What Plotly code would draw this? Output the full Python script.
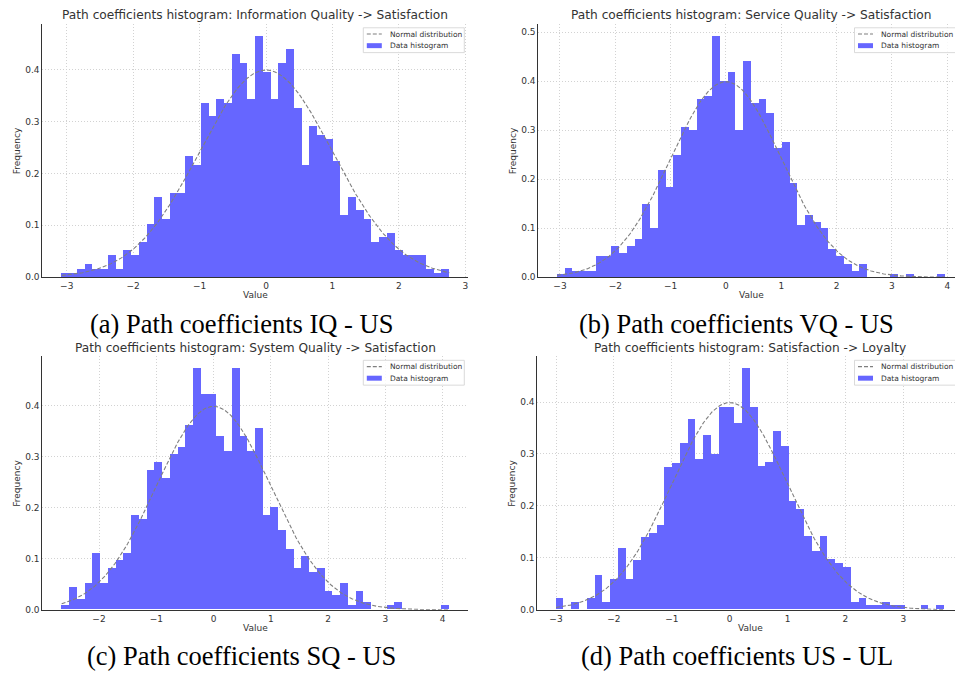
import numpy as np
import plotly.graph_objects as go

W, H = 955, 679

# ---------------- data ----------------
titles = [
    "Path coefficients histogram: Information Quality -> Satisfaction",
    "Path coefficients histogram: Service Quality -> Satisfaction",
    "Path coefficients histogram: System Quality -> Satisfaction",
    "Path coefficients histogram: Satisfaction -> Loyalty",
]
captions = [
    "(a) Path coefficients IQ - US",
    "(b) Path coefficients VQ - US",
    "(c) Path coefficients SQ - US",
    "(d) Path coefficients US - UL",
]
legend_labels = ["Normal distribution", "Data histogram"]
x_label = "Value"
y_label = "Frequency"

# histogram ranges (first bin left edge, last bin right edge), 50 bins each
bin_range_a = (-3.075, 2.759)
bin_range_b = (-3.05, 3.96)
bin_range_c = (-2.652, 4.11)
bin_range_d = (-3.0, 3.707)

freq_a = [0.008, 0.008, 0.017, 0.026, 0.017, 0.017, 0.043, 0.017, 0.052, 0.043,
          0.069, 0.103, 0.155, 0.112, 0.163, 0.163, 0.233, 0.216, 0.335, 0.310,
          0.344, 0.335, 0.431, 0.413, 0.344, 0.465, 0.395, 0.344, 0.413, 0.439,
          0.327, 0.216, 0.292, 0.275, 0.267, 0.224, 0.121, 0.155, 0.129, 0.112,
          0.069, 0.078, 0.086, 0.052, 0.043, 0.043, 0.043, 0.017, 0.008, 0.017]
freq_b = [0.007, 0.020, 0.014, 0.014, 0.014, 0.043, 0.043, 0.065, 0.050, 0.065,
          0.078, 0.150, 0.100, 0.220, 0.184, 0.250, 0.306, 0.300, 0.363, 0.371,
          0.493, 0.400, 0.420, 0.300, 0.441, 0.356, 0.363, 0.335, 0.264, 0.277,
          0.193, 0.107, 0.127, 0.113, 0.100, 0.057, 0.043, 0.028, 0.014, 0.028,
          0.0, 0.0, 0.0, 0.007, 0.0, 0.007, 0.0, 0.0, 0.0, 0.007]
freq_c = [0.008, 0.044, 0.021, 0.051, 0.111, 0.051, 0.081, 0.096, 0.111, 0.186,
          0.177, 0.274, 0.289, 0.258, 0.304, 0.318, 0.362, 0.474, 0.423, 0.423,
          0.340, 0.310, 0.474, 0.340, 0.310, 0.355, 0.186, 0.200, 0.155, 0.119,
          0.081, 0.104, 0.074, 0.081, 0.036, 0.029, 0.051, 0.008, 0.036, 0.014,
          0.0, 0.0, 0.008, 0.014, 0.0, 0.0, 0.0, 0.0, 0.0, 0.008]
freq_d = [0.022, 0.0, 0.015, 0.0, 0.022, 0.066, 0.015, 0.058, 0.118, 0.058,
          0.095, 0.140, 0.148, 0.163, 0.275, 0.282, 0.320, 0.366, 0.290, 0.336,
          0.299, 0.389, 0.389, 0.359, 0.465, 0.389, 0.277, 0.284, 0.344, 0.314,
          0.209, 0.194, 0.142, 0.112, 0.142, 0.097, 0.089, 0.082, 0.015, 0.022,
          0.008, 0.008, 0.015, 0.008, 0.008, 0.0, 0.0, 0.008, 0.0, 0.008]

normal_mean = 0.0
normal_std = 1.0

x_ticks_a = [-3, -2, -1, 0, 1, 2, 3]
x_ticks_b = [-3, -2, -1, 0, 1, 2, 3, 4]
x_ticks_c = [-2, -1, 0, 1, 2, 3, 4]
x_ticks_d = [-3, -2, -1, 0, 1, 2, 3]
y_ticks_a = [0.0, 0.1, 0.2, 0.3, 0.4]
y_ticks_b = [0.0, 0.1, 0.2, 0.3, 0.4, 0.5]
y_ticks_c = [0.0, 0.1, 0.2, 0.3, 0.4]
y_ticks_d = [0.0, 0.1, 0.2, 0.3, 0.4]

# ---------------- layout geometry (pixels) ----------------
panels = [
    dict(freq=freq_a, rng=bin_range_a, xt=x_ticks_a, yt=y_ticks_a,
         left=42.3, right=468.3, full_right=468.3, leg_right=464.3, top=24, bottom=279.3,
         xr=[-3.368, 3.045], yr=[0, 0.488], ylab_x=16.7, cap_x=241, cap_y=326),
    dict(freq=freq_b, rng=bin_range_b, xt=x_ticks_b, yt=y_ticks_b,
         left=538.3, right=955, full_right=964.5, leg_right=955.5, top=24, bottom=279.3,
         xr=[-3.392, 4.139], yr=[0, 0.517], ylab_x=512.7, cap_x=736.5, cap_y=326),
    dict(freq=freq_c, rng=bin_range_c, xt=x_ticks_c, yt=y_ticks_c,
         left=42.3, right=468.3, full_right=468.3, leg_right=464.3, top=359, bottom=614.3,
         xr=[-2.99, 4.448], yr=[0, 0.497], ylab_x=16.7, cap_x=241, cap_y=661),
    dict(freq=freq_d, rng=bin_range_d, xt=x_ticks_d, yt=y_ticks_d,
         left=537.3, right=955, full_right=963.5, leg_right=955.5, top=359, bottom=614.3,
         xr=[-3.323, 3.893], yr=[0, 0.488], ylab_x=511.7, cap_x=736.5, cap_y=661),
]

BAR_COLOR = "#6666ff"
CURVE_COLOR = "#7f7f7f"
TEXT_COLOR = "#333333"
FONT = "DejaVu Sans"


def px(x):
    return x / W


def py(y):
    return 1 - y / H


fig = go.Figure()
shapes = []
annotations = []
layout_axes = {}

for i, p in enumerate(panels):
    n = i + 1
    xa = "x" if n == 1 else f"x{n}"
    ya = "y" if n == 1 else f"y{n}"
    lo, hi = p["rng"]
    nb = len(p["freq"])
    edges = np.linspace(lo, hi, nb + 1)
    centers = (edges[:-1] + edges[1:]) / 2
    bw = edges[1] - edges[0]

    fig.add_trace(go.Bar(
        x=centers, y=p["freq"], width=bw, xaxis=xa, yaxis=ya,
        marker=dict(color=BAR_COLOR, line=dict(width=0)),
        name=legend_labels[1], showlegend=False, hoverinfo="x+y",
    ))
    xs = np.linspace(lo, hi, 300)
    ys = np.exp(-((xs - normal_mean) ** 2) / (2 * normal_std ** 2)) / (normal_std * np.sqrt(2 * np.pi))
    fig.add_trace(go.Scatter(
        x=xs, y=ys, mode="lines", xaxis=xa, yaxis=ya,
        line=dict(color=CURVE_COLOR, width=1.1, dash="4px,2px"),
        name=legend_labels[0], showlegend=False,
    ))

    common = dict(showgrid=True, gridcolor="#d2d2d2", griddash="1px,2px", gridwidth=0.8,
                  showline=True, linecolor="#333333", linewidth=1, zeroline=False,
                  ticks="", tickfont=dict(family=FONT, size=9, color=TEXT_COLOR),
                  fixedrange=True)
    layout_axes["xaxis" if n == 1 else f"xaxis{n}"] = dict(
        domain=[px(p["left"]), px(p["right"])], range=p["xr"], anchor=ya,
        tickmode="array", tickvals=p["xt"], **common)
    layout_axes["yaxis" if n == 1 else f"yaxis{n}"] = dict(
        domain=[py(p["bottom"]), py(p["top"])], range=p["yr"], anchor=xa,
        tickmode="array", tickvals=p["yt"], tickformat=".1f", **common)

    cx = (p["left"] + p["full_right"]) / 2
    # title
    annotations.append(dict(x=px(cx), y=py(15.5 + (p["top"] - 24)), xref="paper", yref="paper",
                            text=titles[i], showarrow=False, xanchor="center", yanchor="middle",
                            font=dict(family=FONT, size=12.2, color=TEXT_COLOR)))
    # axis labels
    annotations.append(dict(x=px(cx), y=py(p["bottom"] + 18), xref="paper", yref="paper",
                            text=x_label, showarrow=False, xanchor="center", yanchor="middle",
                            font=dict(family=FONT, size=9, color=TEXT_COLOR)))
    annotations.append(dict(x=px(p["ylab_x"]), y=py((p["top"] + p["bottom"]) / 2), xref="paper",
                            yref="paper", text=y_label, showarrow=False, textangle=-90,
                            xanchor="center", yanchor="middle",
                            font=dict(family=FONT, size=9, color=TEXT_COLOR)))
    # caption
    annotations.append(dict(x=px(p["cap_x"]), y=py(p["cap_y"]), xref="paper", yref="paper",
                            text=captions[i], showarrow=False, xanchor="center", yanchor="middle",
                            font=dict(family="Liberation Serif", size=26.5, color="#000000")))

    # legend box (matplotlib-like, upper right)
    L = p["leg_right"] - 101
    T = p["top"] + 4
    shapes.append(dict(type="rect", xref="paper", yref="paper", x0=px(L), x1=px(L + 101),
                       y0=py(T), y1=py(T + 25), fillcolor="rgba(255,255,255,0.85)",
                       line=dict(color="#d0d0d0", width=0.8), layer="above"))
    shapes.append(dict(type="line", xref="paper", yref="paper", x0=px(L + 3.5), x1=px(L + 18.5),
                       y0=py(T + 6.3), y1=py(T + 6.3),
                       line=dict(color=CURVE_COLOR, width=1.1, dash="4px,2px"), layer="above"))
    shapes.append(dict(type="rect", xref="paper", yref="paper", x0=px(L + 3.5), x1=px(L + 18.5),
                       y0=py(T + 15.5), y1=py(T + 20.5), fillcolor=BAR_COLOR,
                       line=dict(width=0), layer="above"))
    for j, lab in enumerate(legend_labels):
        annotations.append(dict(x=px(L + 24.5), y=py(T + 6.3 + 12 * j), xref="paper", yref="paper",
                                text=lab, showarrow=False, xanchor="left", yanchor="middle",
                                font=dict(family=FONT, size=7.5, color=TEXT_COLOR)))

fig.update_layout(
    width=W, height=H,
    margin=dict(l=0, r=0, t=0, b=0),
    paper_bgcolor="white", plot_bgcolor="white",
    showlegend=False, bargap=0,
    shapes=shapes, annotations=annotations,
    **layout_axes,
)

fig.write_html("out.html", config={"displayModeBar": False},
               post_script="document.body.style.margin='0';")
